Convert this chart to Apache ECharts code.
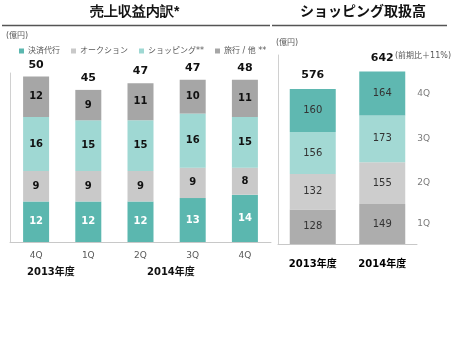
<!DOCTYPE html>
<html>
<head>
<meta charset="utf-8">
<script src="https://cdn.jsdelivr.net/npm/echarts@6/dist/echarts.min.js"></script>
<style>
html, body { margin: 0; padding: 0; background: #fff; }
#chart { width: 452px; height: 352px; }
</style>
</head>
<body>
<div id="chart"></div>
<script>
// 売上収益内訳 (億円)
const leftCats = ['4Q', '1Q', '2Q', '3Q', '4Q'];
const kessai = [12, 12, 12, 13, 14];
const auction = [9, 9, 9, 9, 8];
const shopping = [16, 15, 15, 16, 15];
const travel = [12, 9, 11, 10, 11];
const leftTotals = [50, 45, 47, 47, 48];

// ショッピング取扱高 (億円)
const rightCats = ['2013年度', '2014年度'];
const q1 = [128, 149];
const q2 = [132, 155];
const q3 = [156, 173];
const q4 = [160, 164];
const rightTotals = [576, 642];

const FONT = 'DejaVu Sans, "Noto Sans CJK JP", sans-serif';
const myChart = echarts.init(document.getElementById('chart'));

const segLabel = (color) => ({
    show: true,
    color: color,
    fontWeight: 'bold',
    fontSize: 10,
    fontFamily: FONT
});

const rightLabel = {
    show: true,
    color: '#333',
    fontSize: 10,
    fontFamily: FONT
};

// quarter name labels beside the 2014 bar
const rightStack = [q1, q2, q3, q4];
const qNames = ['1Q', '2Q', '3Q', '4Q'];
let acc = 0;
const qMarks = rightStack.map((arr, i) => {
    const mid = acc + arr[1] / 2;
    acc += arr[1];
    return { value: [1, mid], name: qNames[i] };
});

const option = {
    animation: false,
    textStyle: { fontFamily: FONT },
    legend: {
        data: ['決済代行', 'オークション', 'ショッピング**', '旅行 / 他 **'],
        left: 14,
        top: 42,
        itemWidth: 5,
        itemHeight: 5,
        itemGap: 11,
        icon: 'rect',
        textStyle: { fontSize: 8, color: '#595959', fontFamily: FONT, padding: [0, 0, 0, -1] }
    },
    grid: [
        { left: 10, top: 73, width: 261, height: 169 },
        { left: 278, top: 55, width: 139, height: 189 }
    ],
    xAxis: [
        {
            type: 'category', gridIndex: 0, data: leftCats,
            axisLine: { lineStyle: { color: '#c8c8c8' } },
            axisTick: { show: false },
            axisLabel: { color: '#595959', fontSize: 9, margin: 9 }
        },
        {
            type: 'category', gridIndex: 1, data: rightCats,
            axisLine: { lineStyle: { color: '#c8c8c8' } },
            axisTick: { show: false },
            axisLabel: { color: '#000', fontSize: 10, fontWeight: 'bold', margin: 15 }
        }
    ],
    yAxis: [
        {
            type: 'value', gridIndex: 0, min: 0, max: 50,
            axisLine: { show: true, lineStyle: { color: '#d0d0d0' } },
            axisTick: { show: false }, axisLabel: { show: false }, splitLine: { show: false }
        },
        {
            type: 'value', gridIndex: 1, min: 0, max: 702,
            axisLine: { show: true, lineStyle: { color: '#d0d0d0' } },
            axisTick: { show: false }, axisLabel: { show: false }, splitLine: { show: false }
        }
    ],
    series: [
        { name: '決済代行', type: 'bar', stack: 'l', barWidth: 26, data: kessai, color: '#5bb7af', label: segLabel('#fff') },
        { name: 'オークション', type: 'bar', stack: 'l', barWidth: 26, data: auction, color: '#c9c9c9', label: segLabel('#111') },
        { name: 'ショッピング**', type: 'bar', stack: 'l', barWidth: 26, data: shopping, color: '#9fd8d3', label: segLabel('#111') },
        { name: '旅行 / 他 **', type: 'bar', stack: 'l', barWidth: 26, data: travel, color: '#a6a6a6', label: segLabel('#111') },
        {
            name: 'total', type: 'bar', stack: 'l', barWidth: 26,
            data: leftTotals.map(() => 0),
            label: {
                show: true, position: 'top', distance: 6,
                color: '#111', fontWeight: 'bold', fontSize: 11,
                formatter: (p) => leftTotals[p.dataIndex]
            }
        },

        { name: '1Q', type: 'bar', stack: 'r', xAxisIndex: 1, yAxisIndex: 1, barWidth: 46, data: q1, color: '#adadad', label: rightLabel },
        { name: '2Q', type: 'bar', stack: 'r', xAxisIndex: 1, yAxisIndex: 1, barWidth: 46, data: q2, color: '#cdcdcd', label: rightLabel },
        { name: '3Q', type: 'bar', stack: 'r', xAxisIndex: 1, yAxisIndex: 1, barWidth: 46, data: q3, color: '#a3d9d4', label: rightLabel },
        { name: '4Q', type: 'bar', stack: 'r', xAxisIndex: 1, yAxisIndex: 1, barWidth: 46, data: q4, color: '#5fb8b1', label: rightLabel },
        {
            name: 'rtotal', type: 'bar', stack: 'r', xAxisIndex: 1, yAxisIndex: 1, barWidth: 46,
            data: rightTotals.map(() => 0),
            label: {
                show: true, position: 'top', distance: 8,
                color: '#111', fontWeight: 'bold', fontSize: 11,
                formatter: (p) => rightTotals[p.dataIndex]
            }
        },
        {
            name: 'qname', type: 'scatter', xAxisIndex: 1, yAxisIndex: 1,
            symbolSize: 0, data: qMarks,
            label: {
                show: true, position: 'right', distance: 35,
                color: '#595959', fontSize: 9,
                formatter: (p) => p.name
            }
        }
    ],
    graphic: [
        { type: 'text', left: 135 - 45, top: 5, style: { text: '売上収益内訳*', fontSize: 14, fontWeight: 'bold', fill: '#111', font: 'bold 14px ' + FONT } },
        { type: 'text', left: 300, top: 5, style: { text: 'ショッピング取扱高', fill: '#111', font: 'bold 14px ' + FONT } },
        { type: 'line', shape: { x1: 2, y1: 25.5, x2: 270, y2: 25.5 }, style: { stroke: '#555', lineWidth: 1.5 } },
        { type: 'line', shape: { x1: 272, y1: 25.5, x2: 447, y2: 25.5 }, style: { stroke: '#555', lineWidth: 1.5 } },
        { type: 'text', left: 6, top: 32, style: { text: '(億円)', fill: '#595959', font: '8px ' + FONT } },
        { type: 'text', left: 276, top: 39, style: { text: '(億円)', fill: '#595959', font: '8px ' + FONT } },
        { type: 'text', left: 395, top: 52, style: { text: '(前期比＋11%)', fill: '#595959', font: '8px ' + FONT } },
        { type: 'text', left: 27, top: 267, style: { text: '2013年度', fill: '#111', font: 'bold 10px ' + FONT } },
        { type: 'text', left: 147, top: 267, style: { text: '2014年度', fill: '#111', font: 'bold 10px ' + FONT } }
    ]
};

myChart.setOption(option);

window.addEventListener('resize', () => {
    myChart.resize();
});
</script>
</body>
</html>
